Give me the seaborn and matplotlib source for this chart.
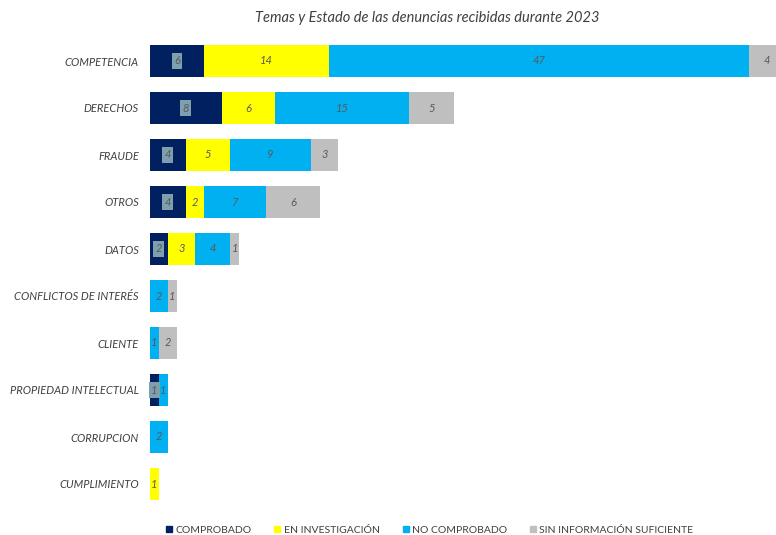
import pandas as pd
import matplotlib.pyplot as plt
import seaborn as sns
from matplotlib.lines import Line2D

# Data
temas = ["COMPETENCIA", "DERECHOS", "FRAUDE", "OTROS", "DATOS",
         "CONFLICTOS DE INTERÉS", "CLIENTE", "PROPIEDAD INTELECTUAL",
         "CORRUPCION", "CUMPLIMIENTO"]
comprobado = [6, 8, 4, 4, 2, 0, 0, 1, 0, 0]
en_investigacion = [14, 6, 5, 2, 3, 0, 0, 0, 0, 1]
no_comprobado = [47, 15, 9, 7, 4, 2, 1, 1, 2, 0]
sin_informacion = [4, 5, 3, 6, 1, 1, 2, 0, 0, 0]

estados = ["COMPROBADO", "EN INVESTIGACIÓN", "NO COMPROBADO", "SIN INFORMACIÓN SUFICIENTE"]
colores = ["#002060", "#FFFF00", "#00B0F0", "#BFBFBF"]

df = pd.DataFrame({"tema": temas,
                   estados[0]: comprobado,
                   estados[1]: en_investigacion,
                   estados[2]: no_comprobado,
                   estados[3]: sin_informacion})

sns.set_style("white")
plt.rcParams['font.family'] = ['Lato', 'DejaVu Sans']

fig = plt.figure(figsize=(7.76, 5.35), dpi=100)
ax = fig.add_axes([150 / 776, 1 - 507.5 / 535, 626 / 776, 470 / 535])

# stacked bars: draw cumulative totals from the largest down
cum = df[estados].cumsum(axis=1)
for est, col in reversed(list(zip(estados, colores))):
    sns.barplot(x=cum[est], y=df["tema"], color=col, width=0.68,
                orient="h", ax=ax, saturation=1, linewidth=0)

# value labels in the middle of each segment
for i, row in df.iterrows():
    left = 0
    for j, est in enumerate(estados):
        v = row[est]
        if v > 0:
            kw = {}
            if j == 0:
                kw["bbox"] = dict(boxstyle="square,pad=0.2", facecolor="#7E9FAE",
                                  edgecolor="none")
            ax.text(left + v / 2, i, str(v), ha="center", va="center",
                    fontsize=8, style="italic", color="#595959", **kw)
        left += v

ax.set_xlim(0, 70)
ax.set_ylim(9.5, -0.5)
ax.set_xlabel("")
ax.set_ylabel("")
ax.set_xticks([])
ax.tick_params(axis="y", length=0, pad=8)
for lbl in ax.get_yticklabels():
    lbl.set_fontsize(8)
    lbl.set_fontstyle("italic")
    lbl.set_color("#404040")
sns.despine(ax=ax, left=True, bottom=True)

fig.text(427 / 776, 1 - 18 / 535, "Temas y Estado de las denuncias recibidas durante 2023",
         ha="center", va="center", fontsize=10.5, style="italic", color="#404040")

handles = [Line2D([], [], marker="s", linestyle="none", color=c, markersize=4)
           for c in colores]
fig.legend(handles, estados, loc="center", bbox_to_anchor=(428 / 776, 1 - 530 / 535),
           ncol=4, frameon=False, fontsize=7.5, handletextpad=0.0, handlelength=1.2,
           columnspacing=1.9, labelcolor="#404040")

fig.savefig("out.png", dpi=100)
